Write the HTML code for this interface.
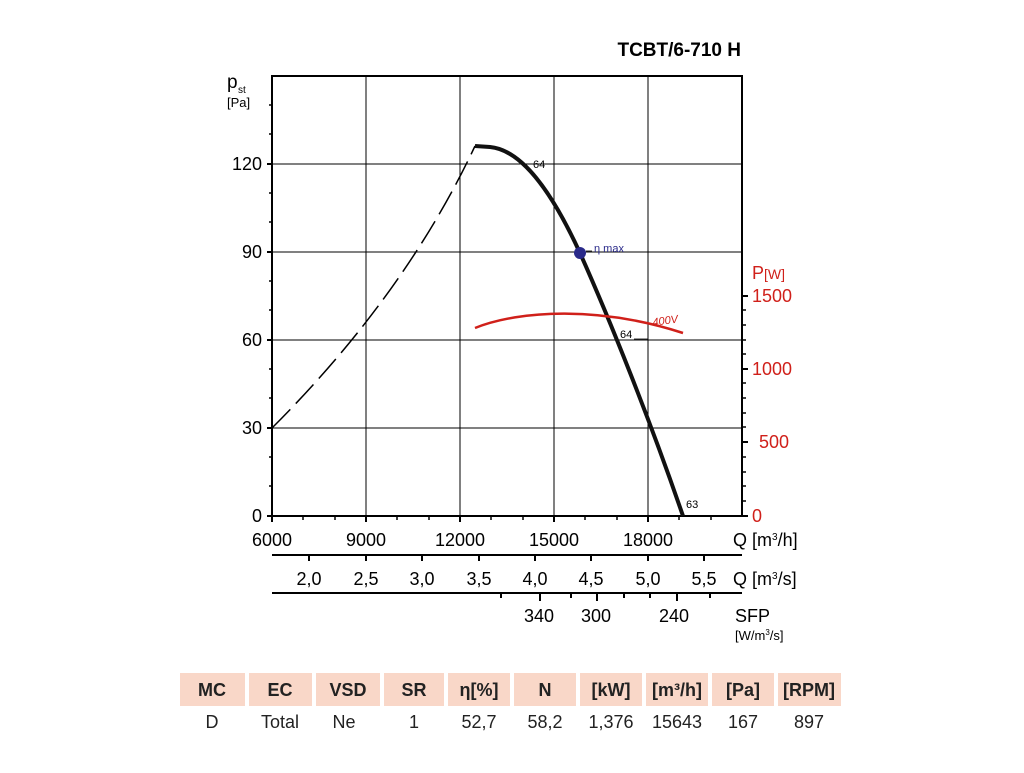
<!DOCTYPE html>
<html><head><meta charset="utf-8"><style>
body{margin:0;background:#fff;width:1024px;height:768px;overflow:hidden;font-family:"Liberation Sans",Arial,sans-serif}
</style></head><body>
<svg width="1024" height="768" xmlns="http://www.w3.org/2000/svg" font-family="Liberation Sans, Arial, sans-serif">
<text x="741" y="56" font-size="19" font-weight="bold" text-anchor="end">TCBT/6-710 H</text>
<g stroke="#000" stroke-width="1">
<line x1="366" y1="76" x2="366" y2="516"/><line x1="460" y1="76" x2="460" y2="516"/>
<line x1="554" y1="76" x2="554" y2="516"/><line x1="648" y1="76" x2="648" y2="516"/>
<line x1="272" y1="164" x2="742" y2="164"/><line x1="272" y1="252" x2="742" y2="252"/>
<line x1="272" y1="340" x2="742" y2="340"/><line x1="272" y1="428" x2="742" y2="428"/>
</g>
<rect x="272" y="76" width="470" height="440" fill="none" stroke="#000" stroke-width="2"/>
<g stroke="#000" stroke-width="2">
<line x1="267" y1="164" x2="272" y2="164"/><line x1="267" y1="252" x2="272" y2="252"/>
<line x1="267" y1="340" x2="272" y2="340"/><line x1="267" y1="428" x2="272" y2="428"/>
<line x1="267" y1="516" x2="272" y2="516"/>
<line x1="272" y1="516" x2="272" y2="522"/><line x1="366" y1="516" x2="366" y2="522"/><line x1="460" y1="516" x2="460" y2="522"/><line x1="554" y1="516" x2="554" y2="522"/><line x1="648" y1="516" x2="648" y2="522"/>
<line x1="742" y1="516" x2="748" y2="516"/><line x1="742" y1="442" x2="748" y2="442"/><line x1="742" y1="369" x2="748" y2="369"/><line x1="742" y1="296" x2="748" y2="296"/>
</g>
<g stroke="#000" stroke-width="1.5">
<line x1="269" y1="105" x2="272" y2="105"/><line x1="269" y1="134" x2="272" y2="134"/>
<line x1="269" y1="193" x2="272" y2="193"/><line x1="269" y1="222" x2="272" y2="222"/>
<line x1="269" y1="281" x2="272" y2="281"/><line x1="269" y1="310" x2="272" y2="310"/>
<line x1="269" y1="369" x2="272" y2="369"/><line x1="269" y1="398" x2="272" y2="398"/>
<line x1="269" y1="457" x2="272" y2="457"/><line x1="269" y1="486" x2="272" y2="486"/>
<line x1="303" y1="516" x2="303" y2="520"/><line x1="335" y1="516" x2="335" y2="520"/>
<line x1="397" y1="516" x2="397" y2="520"/><line x1="429" y1="516" x2="429" y2="520"/>
<line x1="491" y1="516" x2="491" y2="520"/><line x1="523" y1="516" x2="523" y2="520"/>
<line x1="585" y1="516" x2="585" y2="520"/><line x1="617" y1="516" x2="617" y2="520"/>
<line x1="679" y1="516" x2="679" y2="520"/><line x1="711" y1="516" x2="711" y2="520"/>
<line x1="742" y1="501" x2="746" y2="501"/><line x1="742" y1="486" x2="746" y2="486"/><line x1="742" y1="472" x2="746" y2="472"/><line x1="742" y1="457" x2="746" y2="457"/>
<line x1="742" y1="427" x2="746" y2="427"/><line x1="742" y1="413" x2="746" y2="413"/><line x1="742" y1="398" x2="746" y2="398"/><line x1="742" y1="383" x2="746" y2="383"/>
<line x1="742" y1="354" x2="746" y2="354"/><line x1="742" y1="340" x2="746" y2="340"/><line x1="742" y1="325" x2="746" y2="325"/><line x1="742" y1="310" x2="746" y2="310"/>
</g>
<text x="227" y="88" font-size="19">p</text><text x="238" y="93" font-size="10">st</text>
<text x="227" y="107" font-size="13">[Pa]</text>
<g font-size="18" text-anchor="end">
<text x="262" y="170">120</text><text x="262" y="258">90</text><text x="262" y="346">60</text><text x="262" y="434">30</text><text x="262" y="522">0</text>
</g>
<g font-size="18" fill="#d0201a">
<text x="752" y="279">P<tspan font-size="14">[W]</tspan></text>
<text x="752" y="302">1500</text><text x="752" y="375">1000</text><text x="759" y="448">500</text><text x="752" y="522">0</text>
</g>
<g font-size="18" text-anchor="middle">
<text x="272" y="546">6000</text><text x="366" y="546">9000</text><text x="460" y="546">12000</text><text x="554" y="546">15000</text><text x="648" y="546">18000</text>
</g>
<text x="733" y="546" font-size="18">Q [m<tspan font-size="10" dy="-6">3</tspan><tspan dy="6">/h]</tspan></text>
<line x1="272" y1="555" x2="742" y2="555" stroke="#000" stroke-width="2"/>
<g stroke="#000" stroke-width="2">
<line x1="309" y1="555" x2="309" y2="561"/><line x1="366" y1="555" x2="366" y2="561"/><line x1="422" y1="555" x2="422" y2="561"/><line x1="479" y1="555" x2="479" y2="561"/><line x1="535" y1="555" x2="535" y2="561"/><line x1="591" y1="555" x2="591" y2="561"/><line x1="648" y1="555" x2="648" y2="561"/><line x1="704" y1="555" x2="704" y2="561"/>
</g>
<g font-size="18" text-anchor="middle">
<text x="309" y="585">2,0</text><text x="366" y="585">2,5</text><text x="422" y="585">3,0</text><text x="479" y="585">3,5</text><text x="535" y="585">4,0</text><text x="591" y="585">4,5</text><text x="648" y="585">5,0</text><text x="704" y="585">5,5</text>
</g>
<text x="733" y="585" font-size="18">Q [m<tspan font-size="10" dy="-6">3</tspan><tspan dy="6">/s]</tspan></text>
<line x1="272" y1="593" x2="742" y2="593" stroke="#000" stroke-width="2"/>
<g stroke="#000" stroke-width="2">
<line x1="501" y1="593" x2="501" y2="598"/><line x1="540" y1="593" x2="540" y2="601"/><line x1="571" y1="593" x2="571" y2="598"/><line x1="597" y1="593" x2="597" y2="601"/><line x1="624" y1="593" x2="624" y2="598"/><line x1="650" y1="593" x2="650" y2="598"/><line x1="677" y1="593" x2="677" y2="601"/><line x1="710" y1="593" x2="710" y2="598"/>
</g>
<g font-size="18" text-anchor="middle"><text x="539" y="622">340</text><text x="596" y="622">300</text><text x="674" y="622">240</text></g>
<text x="735" y="622" font-size="18">SFP</text>
<text x="735" y="640" font-size="13">[W/m<tspan font-size="8" dy="-5">3</tspan><tspan dy="5">/s]</tspan></text>
<path d="M272,428 Q405,295 475,146" fill="none" stroke="#000" stroke-width="1.5" stroke-dasharray="26,8"/>
<path d="M475,146 L490,147 C522,150 552,192 580,253 C610,320 650,420 683,516" fill="none" stroke="#111" stroke-width="4"/>
<path d="M475,328 C520,310 600,306 683,333" fill="none" stroke="#d0201a" stroke-width="2.5"/>
<circle cx="580" cy="253" r="6" fill="#2a2a8a"/>
<line x1="586" y1="251" x2="592" y2="251" stroke="#000" stroke-width="0.8"/>
<text x="594" y="252" font-size="11" fill="#2a2a8a">η max</text>
<text x="533" y="168" font-size="11">64</text>
<text x="620" y="338" font-size="11">64</text>
<line x1="634" y1="339" x2="648" y2="339" stroke="#000" stroke-width="0.8"/>
<text x="653" y="326" font-size="11" fill="#d0201a" font-style="italic" transform="rotate(-8 653 326)">400V</text>
<text x="686" y="508" font-size="11">63</text>
<g fill="#f9d7c8">
<rect x="180" y="673" width="65" height="33"/><rect x="249" y="673" width="63" height="33"/><rect x="316" y="673" width="64" height="33"/><rect x="384" y="673" width="60" height="33"/><rect x="448" y="673" width="62" height="33"/><rect x="514" y="673" width="62" height="33"/><rect x="580" y="673" width="62" height="33"/><rect x="646" y="673" width="62" height="33"/><rect x="712" y="673" width="62" height="33"/><rect x="778" y="673" width="63" height="33"/>
</g>
<g font-size="18" font-weight="bold" text-anchor="middle" fill="#222">
<text x="212" y="696">MC</text><text x="280" y="696">EC</text><text x="348" y="696">VSD</text><text x="414" y="696">SR</text><text x="479" y="696">η[%]</text><text x="545" y="696">N</text><text x="611" y="696">[kW]</text><text x="677" y="696">[m³/h]</text><text x="743" y="696">[Pa]</text><text x="809" y="696">[RPM]</text>
</g>
<g font-size="18" text-anchor="middle" fill="#222">
<text x="212" y="728">D</text><text x="280" y="728">Total</text><text x="344" y="728">Ne</text><text x="414" y="728">1</text><text x="479" y="728">52,7</text><text x="545" y="728">58,2</text><text x="611" y="728">1,376</text><text x="677" y="728">15643</text><text x="743" y="728">167</text><text x="809" y="728">897</text>
</g>
</svg>
</body></html>
